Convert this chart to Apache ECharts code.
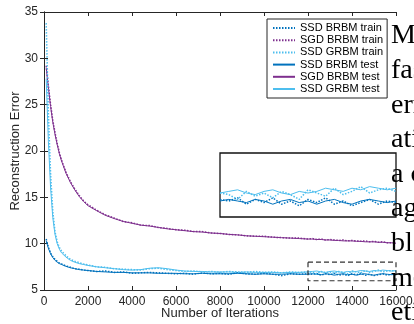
<!DOCTYPE html>
<html><head><meta charset="utf-8">
<script src="https://cdn.jsdelivr.net/npm/echarts@6/dist/echarts.min.js"></script>
<style>html,body{margin:0;padding:0;background:#fff}#c{width:414px;height:324px}</style>
</head><body><div id="c"></div>
<script>
const iterations = [100,200,300,400,500,600,700,800,1000,1200,1400,1600,1800,2000,
2400,2800,3200,3600,4000,4400,4800,5200,5600,6000,6400,6800,7200,7600,8000,8400,8800,9200,9600,10000,10400,10800,11200,11600,12000,
12200,12400,12600,12800,13000,13200,13400,13600,13800,14000,14200,14400,14600,14800,15000,15200,15400,15600,15800,16000];

const ssdBrbmTrain = [10.5,9.6,9.0,8.6,8.3,8.1,7.9,7.8,7.6,7.45,7.3,7.25,7.15,7.1,
7.0,7.05,6.9,6.95,6.8,6.85,6.9,6.85,6.8,6.75,6.8,6.7,6.85,6.75,6.8,6.7,6.85,6.75,6.7,6.8,6.7,6.55,6.75,6.7,6.75,
6.7,6.8,6.6,6.75,6.65,6.8,6.6,6.7,6.55,6.75,6.65,6.8,6.6,6.7,6.55,6.65,6.75,6.6,6.7,6.65];
const sgdBrbmTrain = [29.2,27.0,25.0,23.3,22.0,20.8,19.8,19.0,17.7,16.7,15.9,15.2,14.6,14.2,
13.6,13.1,12.75,12.4,12.25,12.0,11.95,11.75,11.65,11.5,11.45,11.3,11.3,11.15,11.1,11.0,10.95,10.85,10.8,10.8,10.7,10.65,10.6,10.6,10.5,
10.55,10.45,10.5,10.4,10.45,10.4,10.35,10.4,10.3,10.35,10.3,10.25,10.3,10.2,10.25,10.15,10.2,10.1,10.1,10.05];
const ssdGrbmTrain = [33.8,24.0,17.5,13.5,11.3,10.2,9.6,9.2,8.7,8.3,8.1,7.95,7.8,7.7,
7.5,7.45,7.3,7.25,7.2,7.15,7.3,7.35,7.2,7.1,7.0,7.05,6.95,7.0,6.9,7.0,6.95,6.9,7.0,6.9,6.95,6.85,6.95,6.9,6.95,
6.9,6.75,7.0,6.85,6.95,6.8,7.0,6.9,6.75,7.05,6.95,6.85,7.1,6.9,7.0,7.15,6.95,7.05,7.1,7.0];
const ssdBrbmTest = [10.3,9.5,8.9,8.5,8.2,8.0,7.85,7.75,7.55,7.4,7.3,7.2,7.15,7.1,
7.0,6.95,6.9,6.9,6.85,6.85,6.85,6.8,6.8,6.8,6.75,6.75,6.8,6.75,6.75,6.75,6.8,6.75,6.7,6.75,6.7,6.7,6.75,6.7,6.7,
6.75,6.7,6.65,6.75,6.7,6.6,6.7,6.75,6.65,6.7,6.6,6.7,6.75,6.65,6.6,6.7,6.75,6.7,6.65,6.7];
const sgdBrbmTest = [29.0,26.8,24.8,23.1,21.8,20.7,19.7,18.9,17.6,16.6,15.8,15.1,14.55,14.1,
13.55,13.05,12.7,12.4,12.2,12.0,11.9,11.75,11.6,11.5,11.4,11.3,11.25,11.15,11.1,11.0,10.95,10.85,10.8,10.75,10.7,10.65,10.6,10.55,10.5,
10.5,10.45,10.45,10.4,10.4,10.35,10.35,10.3,10.3,10.3,10.25,10.25,10.2,10.2,10.2,10.15,10.15,10.1,10.1,10.05];
const ssdGrbmTest = [27.8,21.0,16.0,12.8,11.0,10.0,9.4,9.0,8.55,8.2,8.0,7.85,7.75,7.65,
7.5,7.4,7.3,7.2,7.15,7.2,7.35,7.4,7.3,7.15,7.05,7.0,7.0,6.95,6.95,6.95,6.9,6.95,6.9,6.9,6.9,6.85,6.9,6.9,6.95,
7.0,7.05,6.95,6.9,7.0,7.05,6.95,6.9,7.0,6.95,7.0,7.1,7.05,7.0,7.1,7.05,7.15,7.1,7.05,7.1];

const seriesNames = ['SSD BRBM train','SGD BRBM train','SSD GRBM train','SSD BRBM test','SGD BRBM test','SSD GRBM test'];
const zoomBoxX = [12000, 16000];
const zoomBoxY = [6, 8];
const insetY = [6.2, 8.2];
const sideText = ['M','fas','err','ati','a c','ag','bl','me','eti'];

const cBlue = '#0072BD', cPurple = '#7E2F8E', cLight = '#4DBEEE';
const seriesData = [ssdBrbmTrain, sgdBrbmTrain, ssdGrbmTrain, ssdBrbmTest, sgdBrbmTest, ssdGrbmTest];
const colors = [cBlue, cPurple, cLight, cBlue, cPurple, cLight];
const pairs = arr => iterations.map((x, i) => [x, arr[i]]);

const series = [];
seriesData.forEach((arr, k) => {
  const dotted = k < 3;
  const ls = {color: colors[k], width: dotted ? 1.5 : 1, type: dotted ? [1.5, 1.5] : 'solid'};
  series.push({name: seriesNames[k], type: 'line', xAxisIndex: 0, yAxisIndex: 0, data: pairs(arr),
    symbol: 'none', showSymbol: false, lineStyle: ls, itemStyle: {color: colors[k]}, z: dotted ? 3 : 2});
  if (k !== 1 && k !== 4) {
    series.push({name: seriesNames[k], type: 'line', xAxisIndex: 2, yAxisIndex: 2,
      data: pairs(arr).filter(p => p[0] >= zoomBoxX[0]),
      symbol: 'none', showSymbol: false, lineStyle: ls, itemStyle: {color: colors[k]}, z: 6});
  }
});
series.push({name: 'zoomBox', type: 'line', xAxisIndex: 0, yAxisIndex: 0, symbol: 'none', silent: true,
  data: [[zoomBoxX[0], zoomBoxY[1]], [zoomBoxX[1], zoomBoxY[1]], [zoomBoxX[1], zoomBoxY[0]], [zoomBoxX[0], zoomBoxY[0]], [zoomBoxX[0], zoomBoxY[1]]],
  lineStyle: {color: '#333', width: 1.2, type: [5, 3]}, z: 4});

const axisCol = '#262626';
const font = 'Liberation Sans';
const plain = v => String(v);
const chart = echarts.init(document.getElementById('c'), null, {renderer: 'canvas'});
chart.setOption({
  animation: false,
  backgroundColor: '#fff',
  textStyle: {fontFamily: font},
  grid: [
    {left: 44, top: 12, right: 18, bottom: 34, containLabel: false, outerBoundsMode: 'none'},
    {left: 220, top: 153, width: 176, height: 64, show: true, borderColor: '#111', borderWidth: 1.3, backgroundColor: '#fff', z: 5, outerBoundsMode: 'none'}
  ],
  xAxis: [
    {gridIndex: 0, type: 'value', min: 0, max: 16000, interval: 2000, position: 'bottom',
     axisLine: {lineStyle: {color: axisCol}}, axisTick: {inside: true, length: 4, lineStyle: {color: axisCol}},
     axisLabel: {fontSize: 12, color: axisCol, margin: 6, fontFamily: font, formatter: plain, hideOverlap: false}, splitLine: {show: false},
     name: 'Number of Iterations', nameLocation: 'middle', nameGap: 17, nameMoveOverlap: false,
     nameTextStyle: {fontSize: 13, color: axisCol, fontFamily: font}},
    {gridIndex: 0, type: 'value', min: 0, max: 16000, interval: 2000, position: 'top',
     axisLine: {lineStyle: {color: axisCol}}, axisTick: {inside: true, length: 4, lineStyle: {color: axisCol}},
     axisLabel: {show: false}, splitLine: {show: false}},
    {gridIndex: 1, type: 'value', min: zoomBoxX[0], max: zoomBoxX[1], show: false}
  ],
  yAxis: [
    {gridIndex: 0, type: 'value', min: 5, max: 35, interval: 5, position: 'left',
     axisLine: {show: true, lineStyle: {color: axisCol}}, axisTick: {show: true, inside: true, length: 4, lineStyle: {color: axisCol}},
     axisLabel: {fontSize: 12, color: axisCol, margin: 6, fontFamily: font, formatter: plain}, splitLine: {show: false},
     name: 'Reconstruction Error', nameLocation: 'middle', nameGap: 22, nameMoveOverlap: false,
     nameTextStyle: {fontSize: 13, color: axisCol, fontFamily: font}},
    {gridIndex: 0, type: 'value', min: 5, max: 35, interval: 5, position: 'right',
     axisLine: {show: true, lineStyle: {color: axisCol}}, axisTick: {show: true, inside: true, length: 4, lineStyle: {color: axisCol}},
     axisLabel: {show: false}, splitLine: {show: false}},
    {gridIndex: 1, type: 'value', min: insetY[0], max: insetY[1], show: false}
  ],
  legend: {
    data: seriesNames, orient: 'vertical', left: 267, top: 19,
    itemWidth: 22, itemHeight: 10, itemGap: 0.2,
    padding: [3, 4, 3, 5],
    borderColor: axisCol, borderWidth: 1, backgroundColor: '#fff',
    itemStyle: {color: 'transparent', borderColor: 'transparent', borderWidth: 0},
    textStyle: {fontSize: 11, color: '#000', fontFamily: font, lineHeight: 12}
  },
  graphic: sideText.map((t, i) => ({
    type: 'text', z: 100,
    style: {text: t, x: 391, y: 45 + i * 34.6 - 9, font: '28px "Liberation Serif"', fill: '#000', verticalAlign: 'middle'}
  })),
  series: series
});
</script></body></html>
